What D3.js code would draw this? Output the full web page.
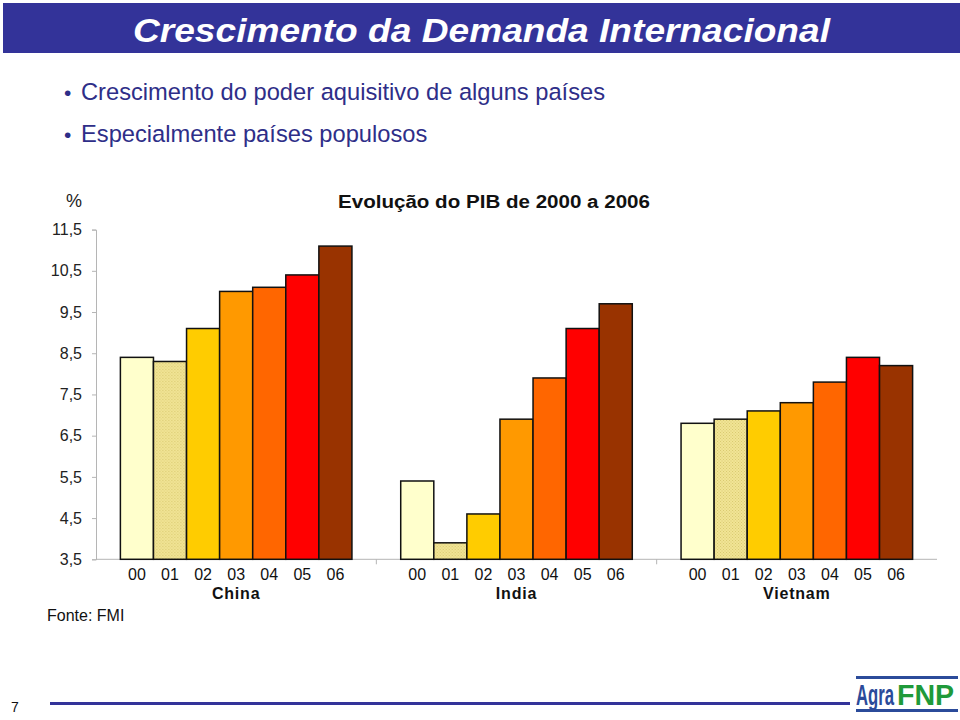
<!DOCTYPE html>
<html><head><meta charset="utf-8">
<script src="https://cdn.jsdelivr.net/npm/d3@7"></script>
<style>
html,body{margin:0;padding:0;background:#fff;}
svg{display:block;font-family:"Liberation Sans",Arial,sans-serif;}
</style></head>
<body>
<svg id="chart" width="960" height="720"></svg>
<script>
const countries = ["China", "India", "Vietnam"];
const years = ["00", "01", "02", "03", "04", "05", "06"];
const chinaValues = [8.4, 8.3, 9.1, 10.0, 10.1, 10.4, 11.1];
const indiaValues = [5.4, 3.9, 4.6, 6.9, 7.9, 9.1, 9.7];
const vietnamValues = [6.8, 6.9, 7.1, 7.3, 7.8, 8.4, 8.2];
const yTicks = [3.5, 4.5, 5.5, 6.5, 7.5, 8.5, 9.5, 10.5, 11.5];
const yearColors = ["#ffffcc", "url(#dots)", "#ffcc00", "#ff9900", "#ff6600", "#ff0000", "#993300"];
const titleText = "Crescimento da Demanda Internacional";
const bullets = ["Crescimento do poder aquisitivo de alguns países", "Especialmente países populosos"];
const chartTitle = "Evolução do PIB de 2000 a 2006";
const sourceText = "Fonte: FMI";

const seriesByCountry = [chinaValues, indiaValues, vietnamValues];
const svg = d3.select("#chart");

// pattern for the 01 bars
const defs = svg.append("defs");
const pat = defs.append("pattern").attr("id", "dots").attr("patternUnits", "userSpaceOnUse")
  .attr("width", 3).attr("height", 3);
pat.append("rect").attr("width", 3).attr("height", 3).attr("fill", "#f1e595");
pat.append("rect").attr("x", 0).attr("y", 0).attr("width", 1).attr("height", 1).attr("fill", "#d9c870");
pat.append("rect").attr("x", 1.5).attr("y", 1.5).attr("width", 1).attr("height", 1).attr("fill", "#d9c870");

// header bar
svg.append("rect").attr("x", 3).attr("y", 3).attr("width", 957).attr("height", 50).attr("fill", "#333399");
svg.append("text").attr("x", 133).attr("y", 42).attr("fill", "#fff")
  .attr("font-size", 33).attr("font-weight", "bold").attr("font-style", "italic")
  .attr("textLength", 697).attr("lengthAdjust", "spacingAndGlyphs")
  .text(titleText);

// bullets
bullets.forEach((b, i) => {
  const y = 100 + i * 42;
  svg.append("text").attr("x", 64).attr("y", y).attr("fill", "#2e2e88").attr("font-size", 21).text("•");
  svg.append("text").attr("x", 81).attr("y", y).attr("fill", "#2e2e88").attr("font-size", 23.7).text(b);
});

// scales
const y = d3.scaleLinear().domain([3.5, 11.5]).range([559.3, 229.6]);
const x0 = d3.scaleBand().domain(countries).range([96, 937]).paddingInner(0.174).paddingOuter(0.087);
const x1 = d3.scaleBand().domain(years).range([0, x0.bandwidth()]).padding(0);

// y axis
const yAxis = svg.append("g").attr("transform", "translate(96,0)")
  .call(d3.axisLeft(y).tickValues(yTicks).tickSize(4).tickPadding(10)
    .tickFormat(d => d3.format(".1f")(d).replace(".", ",")));
yAxis.select(".domain").attr("stroke", "#b5b5b5");
yAxis.selectAll(".tick line").attr("stroke", "#b5b5b5");
yAxis.selectAll(".tick text").attr("font-size", 16).attr("fill", "#222")
  .attr("font-family", "Liberation Sans, Arial, sans-serif");

svg.append("text").attr("x", 66).attr("y", 207).attr("font-size", 18).attr("fill", "#222").text("%");

// x axis line and separators
svg.append("line").attr("x1", 96).attr("x2", 937).attr("y1", y(3.5)).attr("y2", y(3.5)).attr("stroke", "#b5b5b5");
const step = x0.step();
countries.forEach((c, i) => {
  if (i > 0) {
    const sx = x0(c) - step * 0.174 / 2;
    svg.append("line").attr("x1", sx).attr("x2", sx).attr("y1", y(3.5)).attr("y2", y(3.5) + 5).attr("stroke", "#b5b5b5");
  }
});

// bars
countries.forEach((c, ci) => {
  const g = svg.append("g").attr("transform", `translate(${x0(c)},0)`);
  g.selectAll("rect").data(seriesByCountry[ci]).join("rect")
    .attr("x", (d, i) => x1(years[i]))
    .attr("y", d => y(d))
    .attr("width", x1.bandwidth())
    .attr("height", d => y(3.5) - y(d))
    .attr("fill", (d, i) => yearColors[i])
    .attr("stroke", "#111").attr("stroke-width", 1.5);
  g.selectAll("text.yr").data(years).join("text").attr("class", "yr")
    .attr("x", d => x1(d) + x1.bandwidth() / 2)
    .attr("y", 580).attr("text-anchor", "middle")
    .attr("font-size", 16).attr("fill", "#111").text(d => d);
  svg.append("text").attr("x", x0(c) + x0.bandwidth() / 2).attr("y", 599)
    .attr("text-anchor", "middle").attr("font-size", 16).attr("font-weight", "bold")
    .attr("letter-spacing", 0.8).attr("fill", "#111").text(c);
});

// chart title
svg.append("text").attr("x", 338).attr("y", 208).attr("font-size", 17.5).attr("font-weight", "bold")
  .attr("fill", "#111").attr("textLength", 312).attr("lengthAdjust", "spacingAndGlyphs").text(chartTitle);

// source
svg.append("text").attr("x", 47).attr("y", 621).attr("font-size", 16).attr("fill", "#111").text(sourceText);

// footer
svg.append("text").attr("x", 11).attr("y", 712).attr("font-size", 14).attr("fill", "#111").text("7");
svg.append("rect").attr("x", 50).attr("y", 702).attr("width", 800).attr("height", 3).attr("fill", "#333399");
svg.append("rect").attr("x", 856).attr("y", 676).attr("width", 102).attr("height", 3).attr("fill", "#2b4b9a");
svg.append("rect").attr("x", 856).attr("y", 709).attr("width", 102).attr("height", 3).attr("fill", "#2b4b9a");
svg.append("text").attr("transform", "translate(856,705) scale(0.76,1.35)")
  .attr("font-size", 22).attr("font-weight", "bold")
  .attr("fill", "#2b4b9a").text("Agra");
svg.append("text").attr("transform", "translate(897,705) scale(1.3,1.35)")
  .attr("font-size", 22).attr("font-weight", "bold")
  .attr("fill", "#1f9a3a").text("FNP");
</script>
</body></html>
